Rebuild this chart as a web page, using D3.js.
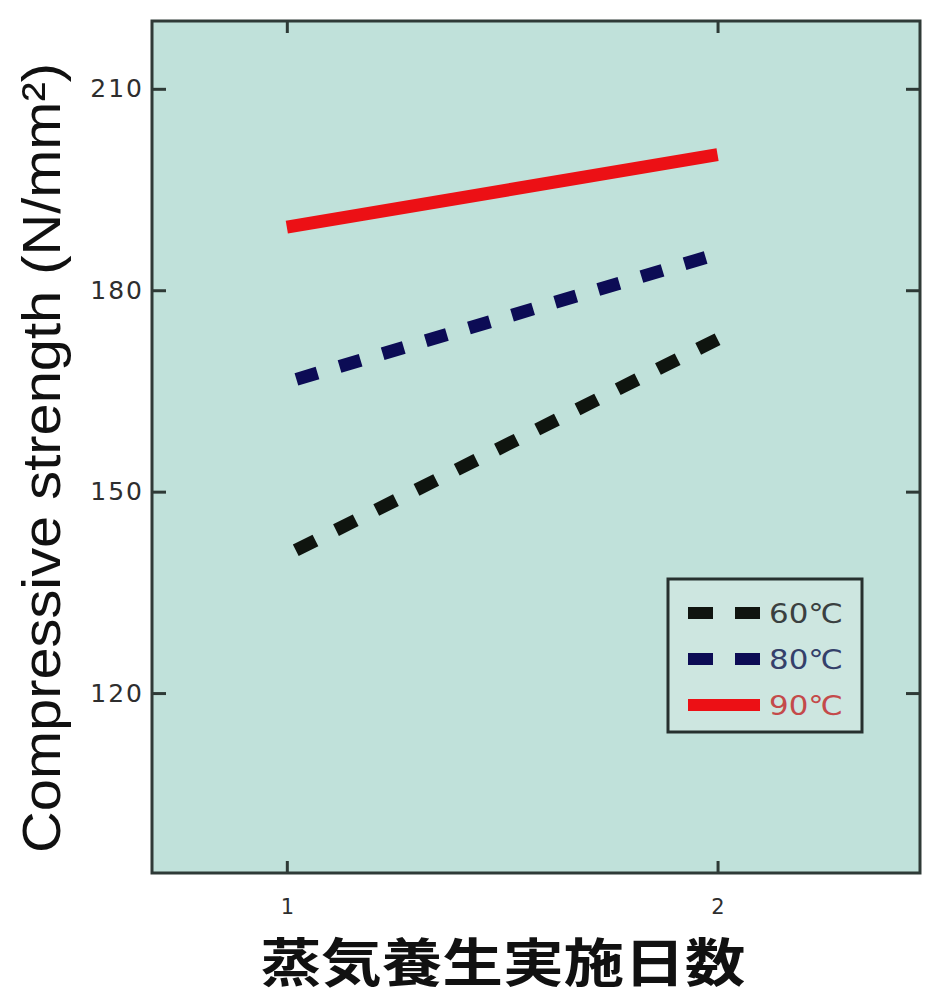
<!DOCTYPE html>
<html>
<head>
<meta charset="utf-8">
<script src="https://cdn.jsdelivr.net/npm/d3@7"></script>
<style>
  html, body { margin: 0; padding: 0; background: #ffffff; }
  svg { display: block; }
</style>
</head>
<body>
<svg id="chart" width="948" height="1000"></svg>
<script>
// ---- data ----
const days = [1, 2];
const xTickLabels = ["1", "2"];
const yTicks = [120, 150, 180, 210];
const seriesNames = ["60℃", "80℃", "90℃"];
const values60 = [140.6, 172.7];
const values80 = [166.3, 185.4];
const values90 = [189.4, 200.2];
const xTitle = "蒸気養生実施日数";
const yTitle = "Compressive strength (N/mm²)";

// ---- layout ----
const svg = d3.select("#chart");
const L = 152, R = 920, T = 21, B = 873;
const x = d3.scaleLinear().domain([0.687, 2.47]).range([L, R]);
const y = d3.scaleLinear().domain([93.2, 220.1]).range([B, T]);

svg.append("rect").attr("x", L).attr("y", T).attr("width", R - L).attr("height", B - T)
  .attr("fill", "#c0e1da");

const series = [
  { name: seriesNames[0], vals: values60, color: "#0f140f", dash: "22,23", text: "#3a4040" },
  { name: seriesNames[1], vals: values80, color: "#0c0c55", dash: "22,23", text: "#34406a" },
  { name: seriesNames[2], vals: values90, color: "#ec1015", dash: null, text: "#c44a4a" }
];

const line = d3.line().x(d => x(d[0])).y(d => y(d[1]));
series.forEach(s => {
  const pts = days.map((d, i) => [d, s.vals[i]]);
  const p = svg.append("path").attr("d", line(pts))
    .attr("fill", "none").attr("stroke", s.color).attr("stroke-width", 13);
  if (s.dash) p.attr("stroke-dasharray", s.dash).attr("stroke-dashoffset", -10);
});

// axes
const tickFont = "'DejaVu Sans', sans-serif";
const gl = svg.append("g").attr("transform", `translate(${L},0)`)
  .call(d3.axisLeft(y).tickValues(yTicks).tickSizeInner(-14).tickSizeOuter(0).tickPadding(8));
const gr = svg.append("g").attr("transform", `translate(${R},0)`)
  .call(d3.axisRight(y).tickValues(yTicks).tickSizeInner(-14).tickSizeOuter(0).tickFormat(""));
const gb = svg.append("g").attr("transform", `translate(0,${B})`)
  .call(d3.axisBottom(x).tickValues(days).tickSizeInner(-12).tickSizeOuter(0)
    .tickFormat((d, i) => xTickLabels[i]).tickPadding(26));
const gt = svg.append("g").attr("transform", `translate(0,${T})`)
  .call(d3.axisTop(x).tickValues(days).tickSizeInner(-12).tickSizeOuter(0).tickFormat(""));
[gl, gr, gb, gt].forEach(g => {
  g.select(".domain").remove();
  g.selectAll(".tick line").attr("stroke", "#2e3a36").attr("stroke-width", 3);
  g.selectAll(".tick text").attr("fill", "#2e2e2e")
    .style("font-family", tickFont).style("font-size", "25px").style("letter-spacing", "2px");
});
gb.selectAll(".tick text").style("font-size", "21px").style("letter-spacing", "0px");

svg.append("rect").attr("x", L).attr("y", T).attr("width", R - L).attr("height", B - T)
  .attr("fill", "none").attr("stroke", "#2f3a37").attr("stroke-width", 3);

// legend
const lg = svg.append("g");
lg.append("rect").attr("x", 668).attr("y", 579).attr("width", 194).attr("height", 153)
  .attr("fill", "#cde6e0").attr("stroke", "#26302e").attr("stroke-width", 3);
series.forEach((s, i) => {
  const cy = 613 + i * 46;
  const l = lg.append("line").attr("x1", 688).attr("x2", 760).attr("y1", cy).attr("y2", cy)
    .attr("stroke", s.color).attr("stroke-width", 12);
  if (s.dash) l.attr("stroke-dasharray", "25,22");
  lg.append("text").attr("x", 769).attr("y", cy).attr("dy", "0.36em")
    .attr("fill", s.text).style("font-family", tickFont).style("font-size", "27px")
    .attr("textLength", 74).attr("lengthAdjust", "spacingAndGlyphs")
    .text(s.name);
});

// titles
svg.append("text").attr("x", 503).attr("y", 982)
  .attr("text-anchor", "middle").attr("fill", "#111")
  .attr("textLength", 485).attr("lengthAdjust", "spacingAndGlyphs")
  .style("font-family", "'Noto Sans CJK JP', sans-serif").style("font-size", "52px")
  .style("font-weight", "bold").text(xTitle);

svg.append("text").attr("transform", "translate(60,458) rotate(-90)")
  .attr("text-anchor", "middle").attr("fill", "#111")
  .attr("textLength", 790).attr("lengthAdjust", "spacingAndGlyphs")
  .style("font-family", "'Liberation Sans', Arial, sans-serif").style("font-size", "54px")
  .text(yTitle);
</script>
</body>
</html>
